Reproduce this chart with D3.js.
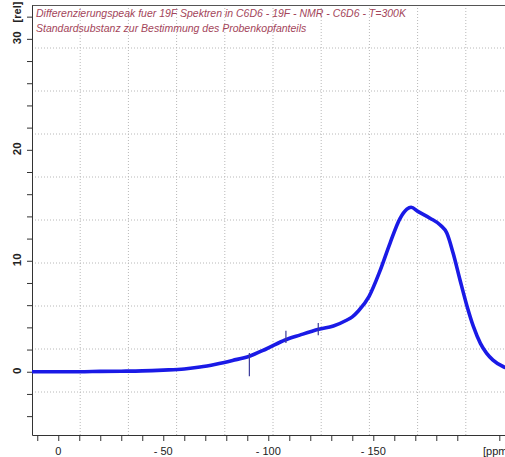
<!DOCTYPE html>
<html>
<head>
<meta charset="utf-8">
<script src="https://cdn.jsdelivr.net/npm/d3@7"></script>
<style>
  body { margin: 0; background: #fff; }
  svg { display: block; font-family: "Liberation Sans", Arial, sans-serif; }
  .grid line { stroke: #b8b8b8; stroke-width: 1; stroke-dasharray: 1,2; }
  .axis path, .axis line { stroke: #333; }
  .title { fill: #a3455a; font-style: italic; font-size: 10.5px; }
</style>
</head>
<body>
<div id="chart"></div>
<script>

// spectrum (ppm, relative intensity)
var ppm = [12.5, 5, 0, -10, -20, -30, -40, -50, -60, -67.5, -75, -83, -91, -99, -108, -115, -124, -131, -137, -140, -143, -148, -153, -158, -162.7, -166, -168, -171.4, -177, -182, -185, -188, -191.3, -194.5, -197.7, -201, -204, -207, -212, -217];
var rel = [0, 0, 0, 0, 0.03, 0.05, 0.08, 0.15, 0.25, 0.42, 0.68, 1.02, 1.4, 2.05, 2.86, 3.3, 3.82, 4.12, 4.62, 4.95, 5.5, 6.8, 9.0, 11.6, 13.8, 14.65, 14.83, 14.43, 13.84, 13.2, 12.5, 10.7, 8.27, 6.0, 4.06, 2.56, 1.66, 1.05, 0.45, 0.2];

// the small glitches on the baseline
var spikePpm = [-91, -108.4, -123.8];
var spikeLo = [-0.4, 2.6, 3.3];
var spikeHi = [1.7, 3.7, 4.4];

var xMajor = [0, -50, -100, -150];
var xLabels = ["0", "- 50", "- 100", "- 150"];
var yMajor = [0, 10, 20, 30];

var titleLines = [
  "Differenzierungspeak fuer 19F Spektren in C6D6 - 19F - NMR - C6D6 - T=300K",
  "Standardsubstanz zur Bestimmung des Probenkopfanteils"
];

var width = 505,
    height = 457;

var margin = { top: 5, left: 32, bottom: 22 };
var plotW = 482,
    plotH = height - margin.top - margin.bottom;

var x = d3.scaleLinear().domain([12.5, -217]).range([margin.left, margin.left + plotW]),
    y = d3.scaleLinear().domain([-5.7, 33.05]).range([margin.top + plotH, margin.top]);

var svg = d3.select("#chart")
    .append("svg")
    .attr("width", width)
    .attr("height", height)

svg.append("rect")
    .attr("width", width)
    .attr("height", height)
    .style("fill", "#fff")

// grid: 10 x 10 cells, independent of the ticks
var gx = d3.range(1, 10).map(function (i) { return margin.left + plotW * i / 10; }),
    gy = d3.range(1, 10).map(function (i) { return margin.top + plotH * i / 10; });

var grid = svg.append("g").attr("class", "grid");

grid.selectAll(".gv")
    .data(gx)
    .enter()
    .append("line")
    .attr("x1", function (d) { return d; })
    .attr("x2", function (d) { return d; })
    .attr("y1", margin.top)
    .attr("y2", margin.top + plotH)

grid.selectAll(".gh")
    .data(gy)
    .enter()
    .append("line")
    .attr("x1", margin.left)
    .attr("x2", margin.left + plotW)
    .attr("y1", function (d) { return d; })
    .attr("y2", function (d) { return d; })

// top frame line
svg.append("line")
    .attr("x1", margin.left)
    .attr("x2", margin.left + plotW)
    .attr("y1", margin.top + 0.5)
    .attr("y2", margin.top + 0.5)
    .style("stroke", "#555")

// title
svg.selectAll(".title")
    .data(titleLines)
    .enter()
    .append("text")
    .attr("class", "title")
    .attr("x", 36)
    .attr("y", function (d, i) { return 17 + i * 15; })
    .text(function (d) { return d; })

// Y AXIS
var yMinor = d3.range(-4, 33, 2).filter(function (d) { return d % 10 !== 0; });

svg.append("g")
    .attr("class", "axis")
    .attr("transform", "translate(" + margin.left + ",0)")
    .call(d3.axisLeft(y).tickValues(yMinor.concat(yMajor)).tickSize(5).tickFormat("").tickSizeOuter(0))

svg.selectAll(".ylab")
    .data(yMajor)
    .enter()
    .append("text")
    .attr("class", "ylab")
    .attr("transform", function (d) { return "translate(21," + (y(d) - 1) + ") rotate(-90)"; })
    .style("text-anchor", "middle")
    .style("font-size", "11.5px")
    .style("font-weight", "bold")
    .style("fill", "#222")
    .text(function (d) { return d; })

svg.append("text")
    .attr("transform", "translate(21,12) rotate(-90)")
    .style("text-anchor", "middle")
    .style("font-size", "11px")
    .style("font-weight", "bold")
    .style("fill", "#222")
    .text("[rel]")

// X AXIS
var xMinor = d3.range(10, -220, -10).filter(function (d) { return d % 50 !== 0; });

svg.append("g")
    .attr("class", "axis")
    .attr("transform", "translate(0," + (margin.top + plotH) + ")")
    .call(d3.axisBottom(x).tickValues(xMinor.concat(xMajor)).tickSize(6).tickFormat("").tickSizeOuter(0))

svg.selectAll(".xlab")
    .data(xMajor)
    .enter()
    .append("text")
    .attr("class", "xlab")
    .attr("x", function (d) { return x(d); })
    .attr("y", 455)
    .style("text-anchor", "middle")
    .style("font-size", "11px")
    .style("fill", "#222")
    .text(function (d, i) { return xLabels[i]; })

// cut by the right edge, as in the original export
svg.append("text")
    .attr("x", 483)
    .attr("y", 455)
    .style("font-size", "11px")
    .style("fill", "#222")
    .text("[ppm]")

// SPECTRUM
var data = ppm.map(function (d, i) { return { ppm: d, rel: rel[i] }; });

var line = d3.line()
    .curve(d3.curveMonotoneX)
    .x(function (d) { return x(d.ppm); })
    .y(function (d) { return y(d.rel); });

svg.append("path")
    .datum(data)
    .attr("d", line)
    .style("fill", "none")
    .style("stroke", "#1a1ae6")
    .style("stroke-width", 3.6)
    .style("stroke-linejoin", "round")

svg.selectAll(".spike")
    .data(spikePpm)
    .enter()
    .append("line")
    .attr("class", "spike")
    .attr("x1", function (d) { return x(d); })
    .attr("x2", function (d) { return x(d); })
    .attr("y1", function (d, i) { return y(spikeLo[i]); })
    .attr("y2", function (d, i) { return y(spikeHi[i]); })
    .style("stroke", "#3a3a9a")
    .style("stroke-width", 1.2)

</script>
</body>
</html>
